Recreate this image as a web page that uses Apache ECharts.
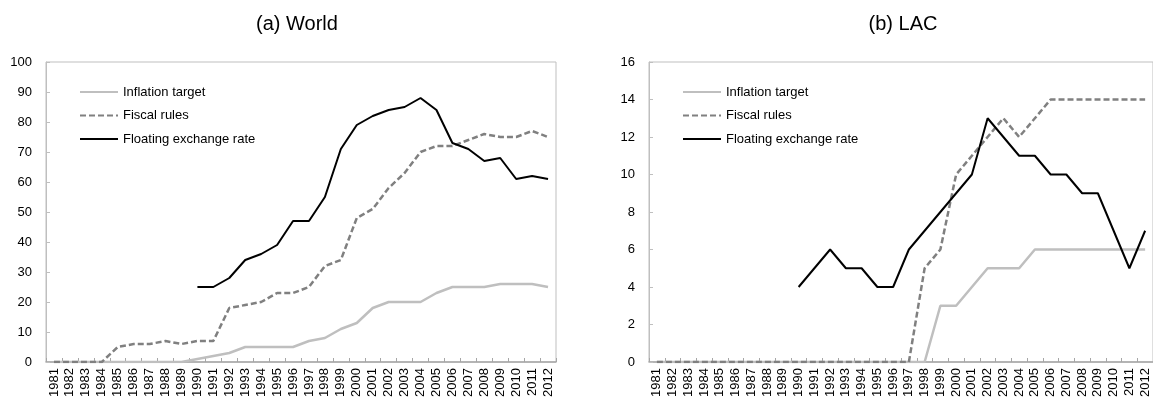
<!DOCTYPE html>
<html>
<head>
<meta charset="utf-8">
<script src="https://cdn.jsdelivr.net/npm/echarts@6/dist/echarts.min.js"></script>
<style>
html,body{margin:0;padding:0;background:#fff;}
#chart{width:1153px;height:402px;}
</style>
</head>
<body>
<div id="chart"></div>
<script>
var years = ['1981','1982','1983','1984','1985','1986','1987','1988','1989','1990','1991','1992','1993','1994','1995','1996','1997','1998','1999','2000','2001','2002','2003','2004','2005','2006','2007','2008','2009','2010','2011','2012'];
var seriesNames = ['Inflation target','Fiscal rules','Floating exchange rate'];
var titles = ['(a) World','(b) LAC'];

var worldInflation = [0,0,0,0,0,0,0,0,0,1,2,3,5,5,5,5,7,8,11,13,18,20,20,20,23,25,25,25,26,26,26,25];
var worldFiscal = [0,0,0,0,5,6,6,7,6,7,7,18,19,20,23,23,25,32,34,48,51,58,63,70,72,72,74,76,75,75,77,75];
var worldFloating = [null,null,null,null,null,null,null,null,null,25,25,28,34,36,39,47,47,55,71,79,82,84,85,88,84,73,71,67,68,61,62,61];

var lacInflation = [0,0,0,0,0,0,0,0,0,0,0,0,0,0,0,0,0,0,3,3,4,5,5,5,6,6,6,6,6,6,6,6];
var lacFiscal = [0,0,0,0,0,0,0,0,0,0,0,0,0,0,0,0,0,5,6,10,11,12,13,12,13,14,14,14,14,14,14,14];
var lacFloating = [null,null,null,null,null,null,null,null,null,4,5,6,5,5,4,4,6,7,8,9,10,13,12,11,11,10,10,9,9,7,5,7];

var FONT = "'Liberation Sans', Arial, sans-serif";
var styles = [
  {color:'#bfbfbf', width:2.5, type:'solid'},
  {color:'#808080', width:2.5, type:[6,3]},
  {color:'#000000', width:2, type:'solid'}
];

function xAxis(gi){
  return {
    type:'category', gridIndex:gi, data:years, boundaryGap:true,
    axisLine:{show:true, lineStyle:{color:'#a6a6a6', width:1.5}},
    axisTick:{show:true, inside:true, length:4, interval:0, lineStyle:{color:'#a6a6a6'}},
    axisLabel:{interval:0, rotate:90, fontSize:13, color:'#000', fontFamily:FONT, margin:6},
    splitLine:{show:false}
  };
}
function yAxis(gi, max, interval){
  return {
    type:'value', gridIndex:gi, min:0, max:max, interval:interval,
    axisLine:{show:true, lineStyle:{color:'#bfbfbf', width:1}},
    axisTick:{show:true, inside:true, length:4, lineStyle:{color:'#bfbfbf'}},
    axisLabel:{fontSize:13, color:'#000', fontFamily:FONT, margin:14},
    splitLine:{show:false}
  };
}
function mk(name, data, idx, gi){
  var s = styles[idx];
  return {
    name:name, type:'line', xAxisIndex:gi, yAxisIndex:gi, data:data,
    symbol:'none', showSymbol:false, connectNulls:false, animation:false,
    lineStyle:{color:s.color, width:s.width, type:s.type},
    itemStyle:{color:s.color},
    z: 2+idx
  };
}
function legend(left){
  return {
    orient:'vertical', left:left, top:80, itemWidth:38, itemHeight:2, itemGap:9.5,
    data:seriesNames,
    itemStyle:{opacity:0},
    textStyle:{fontSize:13, color:'#000', fontFamily:FONT, lineHeight:14},
    selectedMode:false
  };
}

var chart = echarts.init(document.getElementById('chart'));
chart.setOption({
  backgroundColor:'#fff',
  animation:false,
  title:[
    {text:titles[0], left:292, top:9, textAlign:'center', textStyle:{fontSize:20, fontWeight:'normal', color:'#000', fontFamily:FONT}},
    {text:titles[1], left:898, top:9, textAlign:'center', textStyle:{fontSize:20, fontWeight:'normal', color:'#000', fontFamily:FONT}}
  ],
  legend:[legend(74), legend(677)],
  grid:[
    {left:46, top:62, width:510, height:300, show:true, borderColor:'#bfbfbf', borderWidth:1, backgroundColor:'transparent'},
    {left:649, top:62, width:508, height:300, show:true, borderColor:'#bfbfbf', borderWidth:1, backgroundColor:'transparent'}
  ],
  xAxis:[xAxis(0), xAxis(1)],
  yAxis:[yAxis(0,100,10), yAxis(1,16,2)],
  series:[
    mk(seriesNames[0], worldInflation, 0, 0),
    mk(seriesNames[1], worldFiscal, 1, 0),
    mk(seriesNames[2], worldFloating, 2, 0),
    mk(seriesNames[0], lacInflation, 0, 1),
    mk(seriesNames[1], lacFiscal, 1, 1),
    mk(seriesNames[2], lacFloating, 2, 1)
  ]
});
</script>
</body>
</html>
